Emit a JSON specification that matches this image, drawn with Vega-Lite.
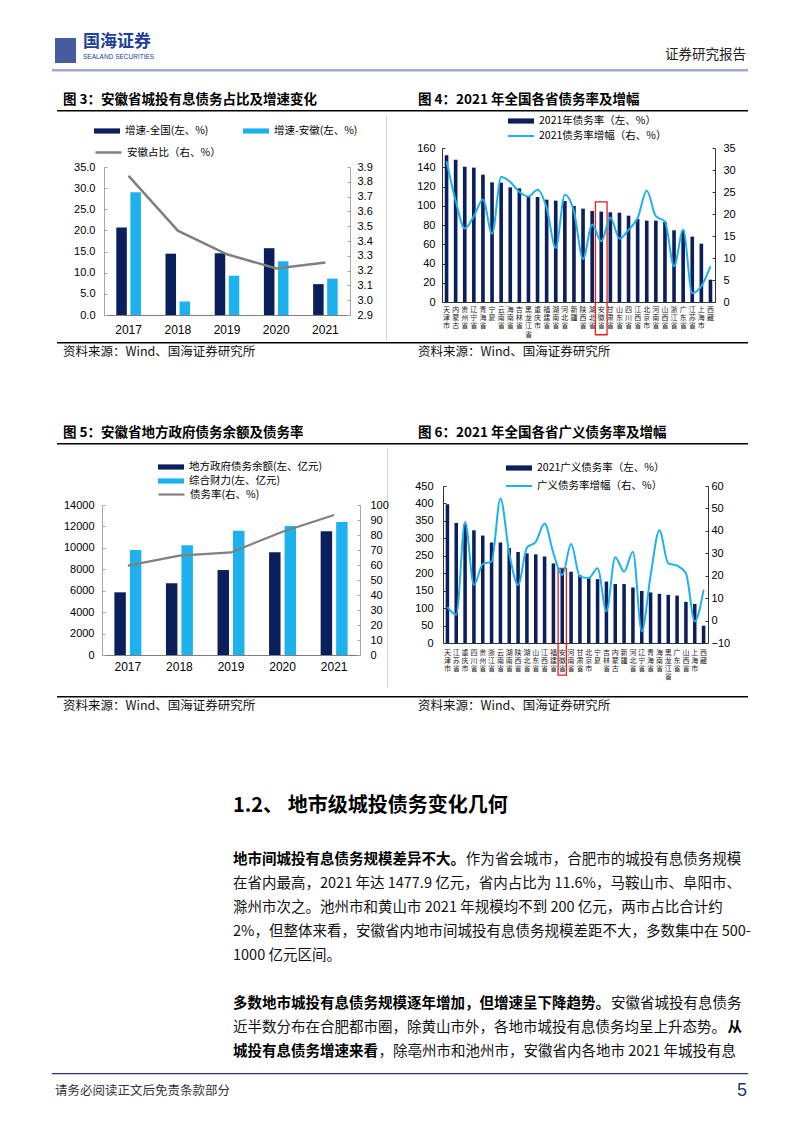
{
"$schema": "https://vega.github.io/schema/vega-lite/v6.json",
"padding": 0,
"background": "#ffffff",
"bounds": "flush",
"spacing": 0,
"resolve": {"scale": {"x": "independent", "y": "independent", "color": "independent", "stroke": "independent", "xOffset": "independent"}, "legend": {"color": "independent", "stroke": "independent"}},
"config": {
 "view": {"stroke": null},
 "font": "Noto Sans CJK SC",
 "axis": {"labelFont": "Liberation Sans", "labelFontSize": 11, "labelColor": "#000000", "domainColor": "#8c8c8c", "tickColor": "#8c8c8c", "grid": false, "labelOverlap": false},
 "legend": {"labelFont": "Noto Sans CJK SC", "labelFontSize": 10.5, "labelColor": "#000000", "padding": 0, "labelOffset": 10.5, "labelLimit": 400, "rowPadding": 1, "symbolSize": 169},
 "title": {"font": "Noto Sans CJK SC", "color": "#000000"}
},
"datasets": {
 "c3bars": [
  {"year": "2017", "series": "增速-全国(左、%)", "value": 20.7},
  {"year": "2017", "series": "增速-安徽(左、%)", "value": 29.0},
  {"year": "2018", "series": "增速-全国(左、%)", "value": 14.5},
  {"year": "2018", "series": "增速-安徽(左、%)", "value": 3.2},
  {"year": "2019", "series": "增速-全国(左、%)", "value": 14.6},
  {"year": "2019", "series": "增速-安徽(左、%)", "value": 9.3},
  {"year": "2020", "series": "增速-全国(左、%)", "value": 15.8},
  {"year": "2020", "series": "增速-安徽(左、%)", "value": 12.7},
  {"year": "2021", "series": "增速-全国(左、%)", "value": 7.3},
  {"year": "2021", "series": "增速-安徽(左、%)", "value": 8.6}
 ],
 "c3line": [
  {"year": "2017", "share": 3.84},
  {"year": "2018", "share": 3.47},
  {"year": "2019", "share": 3.31},
  {"year": "2020", "share": 3.215},
  {"year": "2021", "share": 3.255}
 ],
 "c5bars": [
  {"year": "2017", "series": "地方政府债务余额(左、亿元)", "value": 5850},
  {"year": "2017", "series": "综合财力(左、亿元)", "value": 9800},
  {"year": "2018", "series": "地方政府债务余额(左、亿元)", "value": 6690},
  {"year": "2018", "series": "综合财力(左、亿元)", "value": 10240},
  {"year": "2019", "series": "地方政府债务余额(左、亿元)", "value": 7930},
  {"year": "2019", "series": "综合财力(左、亿元)", "value": 11600},
  {"year": "2020", "series": "地方政府债务余额(左、亿元)", "value": 9580},
  {"year": "2020", "series": "综合财力(左、亿元)", "value": 12040},
  {"year": "2021", "series": "地方政府债务余额(左、亿元)", "value": 11540},
  {"year": "2021", "series": "综合财力(左、亿元)", "value": 12420}
 ],
 "c5line": [
  {"year": "2017", "ratio": 59.6},
  {"year": "2018", "ratio": 66.2},
  {"year": "2019", "ratio": 68.4},
  {"year": "2020", "ratio": 82.2},
  {"year": "2021", "ratio": 93.3}
 ],
 "c4": [
  {"prov": "天津市", "rate": 152.4, "growth": 32.0},
  {"prov": "内蒙古", "rate": 147.9, "growth": 23.0},
  {"prov": "贵州省", "rate": 140.6, "growth": 16.7},
  {"prov": "辽宁省", "rate": 139.6, "growth": 19.5},
  {"prov": "青海省", "rate": 132.3, "growth": 23.3},
  {"prov": "宁夏", "rate": 124.3, "growth": 15.5},
  {"prov": "云南省", "rate": 124.0, "growth": 28.4},
  {"prov": "海南省", "rate": 119.1, "growth": 27.3},
  {"prov": "吉林省", "rate": 118.1, "growth": 25.0},
  {"prov": "黑龙江省", "rate": 109.8, "growth": 24.0},
  {"prov": "重庆市", "rate": 109.1, "growth": 25.5},
  {"prov": "福建省", "rate": 106.3, "growth": 21.4},
  {"prov": "湖南省", "rate": 105.3, "growth": 12.3},
  {"prov": "河北省", "rate": 104.9, "growth": 24.4},
  {"prov": "新疆", "rate": 99.7, "growth": 20.6},
  {"prov": "陕西省", "rate": 97.0, "growth": 9.8},
  {"prov": "湖北省", "rate": 94.5, "growth": 17.6},
  {"prov": "安徽省", "rate": 93.9, "growth": 13.8},
  {"prov": "甘肃省", "rate": 93.2, "growth": 19.2},
  {"prov": "山东省", "rate": 92.8, "growth": 14.4},
  {"prov": "四川省", "rate": 89.7, "growth": 16.4},
  {"prov": "江西省", "rate": 86.2, "growth": 19.1},
  {"prov": "北京市", "rate": 84.5, "growth": 25.3},
  {"prov": "河南省", "rate": 84.5, "growth": 19.5},
  {"prov": "山西省", "rate": 83.1, "growth": 18.3},
  {"prov": "浙江省", "rate": 74.5, "growth": 8.1},
  {"prov": "广东省", "rate": 74.1, "growth": 16.4},
  {"prov": "江苏省", "rate": 67.9, "growth": 2.0},
  {"prov": "上海市", "rate": 60.6, "growth": 3.6},
  {"prov": "西藏", "rate": 23.2, "growth": 8.1}
 ],
 "c6": [
  {"prov": "天津市", "rate": 398, "growth": 6.0},
  {"prov": "江苏省", "rate": 344, "growth": 2.6},
  {"prov": "重庆市", "rate": 340, "growth": 44.0},
  {"prov": "四川省", "rate": 323, "growth": 15.9},
  {"prov": "贵州省", "rate": 308, "growth": 25.2},
  {"prov": "浙江省", "rate": 288, "growth": 26.3},
  {"prov": "云南省", "rate": 288, "growth": 54.4},
  {"prov": "湖南省", "rate": 272, "growth": 30.0},
  {"prov": "陕西省", "rate": 261, "growth": 15.9},
  {"prov": "湖北省", "rate": 257, "growth": 32.5},
  {"prov": "山东省", "rate": 254, "growth": 35.1},
  {"prov": "江西省", "rate": 248, "growth": 43.3},
  {"prov": "福建省", "rate": 228, "growth": 30.0},
  {"prov": "安徽省", "rate": 214, "growth": 20.3},
  {"prov": "河南省", "rate": 204, "growth": 34.1},
  {"prov": "甘肃省", "rate": 194, "growth": 19.6},
  {"prov": "北京市", "rate": 187, "growth": 19.0},
  {"prov": "宁夏", "rate": 183, "growth": 23.3},
  {"prov": "吉林省", "rate": 176, "growth": 4.1},
  {"prov": "内蒙古", "rate": 169, "growth": 28.2},
  {"prov": "新疆", "rate": 169, "growth": 21.8},
  {"prov": "河北省", "rate": 159, "growth": 30.7},
  {"prov": "辽宁省", "rate": 149, "growth": -4.8},
  {"prov": "青海省", "rate": 145, "growth": 20.0},
  {"prov": "海南省", "rate": 141, "growth": 40.3},
  {"prov": "黑龙江省", "rate": 138, "growth": 25.5},
  {"prov": "广东省", "rate": 136, "growth": 24.5},
  {"prov": "山西省", "rate": 118, "growth": 21.1},
  {"prov": "上海市", "rate": 112, "growth": -0.4},
  {"prov": "西藏", "rate": 49.5, "growth": 13.7}
 ],
 "body": [
  {"line": 0, "col": 0, "seg": "地市间城投有息债务规模差异不大。", "emph": true},
  {"line": 0, "col": 16, "seg": "作为省会城市，合肥市的城投有息债务规模", "emph": false},
  {"line": 1, "col": 0, "seg": "在省内最高，2021 年达 1477.9 亿元，省内占比为 11.6%，马鞍山市、阜阳市、", "emph": false},
  {"line": 2, "col": 0, "seg": "滁州市次之。池州市和黄山市 2021 年规模均不到 200 亿元，两市占比合计约", "emph": false},
  {"line": 3, "col": 0, "seg": "2%，但整体来看，安徽省内地市间城投有息债务规模差距不大，多数集中在 500-", "emph": false},
  {"line": 4, "col": 0, "seg": "1000 亿元区间。", "emph": false},
  {"line": 6, "col": 0, "seg": "多数地市城投有息债务规模逐年增加，但增速呈下降趋势。", "emph": true},
  {"line": 6, "col": 26, "seg": "安徽省城投有息债务", "emph": false},
  {"line": 7, "col": 0, "seg": "近半数分布在合肥都市圈，除黄山市外，各地市城投有息债务均呈上升态势。", "emph": false},
  {"line": 7, "col": 34, "seg": "从", "emph": true},
  {"line": 8, "col": 0, "seg": "城投有息债务增速来看", "emph": true},
  {"line": 8, "col": 10, "seg": "，除亳州市和池州市，安徽省内各地市 2021 年城投有息", "emph": false}
 ]
},
"vconcat": [
 {"width": 1, "height": 38, "data": {"values": []}, "mark": {"type": "point", "opacity": 0}},
 {"bounds": "flush", "spacing": 0, "hconcat": [
   {"width": 55, "height": 1, "data": {"values": []}, "mark": {"type": "point", "opacity": 0}},
   {"width": 21, "height": 25, "view": {"fill": "#243f8e", "fillOpacity": 0.85}, "data": {"values": []}, "mark": {"type": "point", "opacity": 0}}
 ]},
 {"width": 1, "height": 31, "data": {"values": []}, "mark": {"type": "point", "opacity": 0}},
 {"bounds": "flush", "spacing": 0, "hconcat": [
   {"width": 52, "height": 1, "data": {"values": []}, "mark": {"type": "point", "opacity": 0}},
   {"width": 696, "height": 2.5, "view": {"fill": "#a4a8d8"}, "data": {"values": []}, "mark": {"type": "point", "opacity": 0},
    "title": {"text": "国海证券", "subtitle": "SEALAND SECURITIES", "anchor": "start", "dx": 31, "offset": 8, "fontSize": 17, "fontWeight": "bold", "color": "#20409a", "subtitleFontSize": 6.5, "subtitleColor": "#20409a", "subtitleFont": "Liberation Sans", "subtitlePadding": 3}},
   {"width": 1, "height": 2.5, "data": {"values": []}, "mark": {"type": "point", "opacity": 0},
    "title": {"text": "证券研究报告", "anchor": "end", "dx": -3, "offset": 8, "fontSize": 13.5, "fontWeight": "normal", "color": "#222222"}}
 ]},
 {"width": 1, "height": 41, "data": {"values": []}, "mark": {"type": "point", "opacity": 0}},
 {"bounds": "flush", "spacing": 0, "hconcat": [
   {"width": 57, "height": 1, "data": {"values": []}, "mark": {"type": "point", "opacity": 0}},
   {"width": 355, "height": 1.5, "view": {"fill": "#000000"}, "data": {"values": []}, "mark": {"type": "point", "opacity": 0},
    "title": {"text": "图 3：安徽省城投有息债务占比及增速变化", "anchor": "start", "dx": 6, "offset": 4, "fontSize": 13.5, "fontWeight": "bold"}},
   {"width": 336, "height": 1.5, "view": {"fill": "#000000"}, "data": {"values": []}, "mark": {"type": "point", "opacity": 0},
    "title": {"text": "图 4：2021 年全国各省债务率及增幅", "anchor": "start", "dx": 6, "offset": 4, "fontSize": 13.5, "fontWeight": "bold"}}
 ]},
 {"width": 1, "height": 5, "data": {"values": []}, "mark": {"type": "point", "opacity": 0}},
 {"bounds": "flush", "spacing": 0, "hconcat": [
   {"width": 386, "height": 1, "data": {"values": []}, "mark": {"type": "point", "opacity": 0}},
   {"width": 1, "height": 226, "view": {"fill": "#d4d4d4"}, "data": {"values": []}, "mark": {"type": "point", "opacity": 0}}
 ]},
 {"width": 1, "height": 33, "data": {"values": []}, "mark": {"type": "point", "opacity": 0}},
 {"bounds": "flush", "spacing": 0,
  "resolve": {"scale": {"color": "independent", "stroke": "independent"}, "legend": {"color": "independent", "stroke": "independent"}},
  "hconcat": [
   {"width": 442, "height": 1, "data": {"values": []}, "mark": {"type": "point", "opacity": 0}},
   {
    "width": 273, "height": 154,
    "resolve": {"scale": {"y": "independent"}},
    "layer": [
     {
      "data": {"name": "c4"},
      "mark": {"type": "bar"},
      "encoding": {
       "x": {"field": "prov", "type": "nominal", "sort": null, "scale": {"type": "band", "paddingInner": 0.6, "paddingOuter": 0.3},
             "axis": {"title": null, "labelAngle": 0, "labelExpr": "split(datum.label, '')", "labelFont": "Noto Sans CJK SC", "labelFontSize": 7, "labelLineHeight": 8.4, "labelBaseline": "top", "labelPadding": 3, "ticks": false, "domainColor": "#333333", "labelColor": "#222222", "labelOverlap": false}},
       "y": {"field": "rate", "type": "quantitative", "scale": {"domain": [0, 160], "nice": false},
             "axis": {"title": null, "values": [0, 20, 40, 60, 80, 100, 120, 140, 160], "tickSize": -3, "labelPadding": 10, "domainColor": "#333333", "tickColor": "#333333", "labelOverlap": false}},
       "color": {"datum": "2021年债务率（左、%）", "type": "nominal", "scale": {"range": ["#0b1f5c"]},
                 "legend": {"title": null, "orient": "none", "legendX": 71.5, "legendY": -34.5, "symbolType": "M-2,-0.4H2V0.4H-2Z"}}
      }
     },
     {
      "data": {"name": "c4"},
      "transform": [{"filter": "datum.prov === '安徽省'"}],
      "mark": {"type": "bar", "filled": false, "color": "#e0211d", "strokeWidth": 1.3, "width": {"band": 3.2}, "clip": false},
      "encoding": {
       "x": {"field": "prov", "type": "nominal", "sort": null},
       "y": {"datum": 104, "type": "quantitative", "scale": {"domain": [0, 160], "nice": false}, "axis": null},
       "y2": {"datum": -34}
      }
     },
     {
      "data": {"name": "c4"},
      "mark": {"type": "line", "strokeWidth": 2, "interpolate": "monotone"},
      "encoding": {
       "x": {"field": "prov", "type": "nominal", "sort": null},
       "y": {"field": "growth", "type": "quantitative", "scale": {"domain": [0, 35], "nice": false},
             "axis": {"orient": "right", "title": null, "values": [0, 5, 10, 15, 20, 25, 30, 35], "tickSize": -3, "labelPadding": 11, "domainColor": "#333333", "tickColor": "#333333", "labelOverlap": false}},
       "stroke": {"datum": "2021债务率增幅（右、%）", "type": "nominal", "scale": {"range": ["#1db1ee"]},
                  "legend": {"title": null, "orient": "none", "legendX": 71.5, "legendY": -19.5, "symbolType": "M-2,0H2", "symbolStrokeWidth": 2}}
      }
     }
    ]
   }
 ]},
 {"width": 1, "height": 19, "data": {"values": []}, "mark": {"type": "point", "opacity": 0}},
 {"bounds": "flush", "spacing": 0,
  "resolve": {"scale": {"color": "independent", "stroke": "independent", "xOffset": "independent"}, "legend": {"color": "independent", "stroke": "independent"}},
  "hconcat": [
   {"width": 104, "height": 1, "data": {"values": []}, "mark": {"type": "point", "opacity": 0}},
   {
    "width": 246, "height": 148,
    "resolve": {"scale": {"y": "independent"}},
    "layer": [
     {
      "data": {"name": "c3bars"},
      "mark": {"type": "bar"},
      "encoding": {
       "x": {"field": "year", "type": "nominal", "sort": null, "scale": {"type": "band", "paddingInner": 0.5, "paddingOuter": 0.25},
             "axis": {"title": null, "labelAngle": 0, "ticks": false, "labelPadding": 9, "labelFontSize": 12, "domainColor": "#7f7f7f"}},
       "xOffset": {"field": "series", "type": "nominal", "sort": ["增速-全国(左、%)", "增速-安徽(左、%)"], "scale": {"paddingInner": 0.25, "paddingOuter": 0}},
       "y": {"field": "value", "type": "quantitative", "scale": {"domain": [0, 35], "nice": false},
             "axis": {"title": null, "values": [0, 5, 10, 15, 20, 25, 30, 35], "format": ".1f", "tickSize": -3, "labelPadding": 12, "domainColor": "#a6a6a6", "tickColor": "#a6a6a6", "labelOverlap": false}},
       "color": {"field": "series", "type": "nominal", "sort": ["增速-全国(左、%)", "增速-安徽(左、%)"],
                 "scale": {"domain": ["增速-全国(左、%)", "增速-安徽(左、%)"], "range": ["#0b1f5c", "#1db2ee"]},
                 "legend": {"title": null, "orient": "none", "legendX": -4.5, "legendY": -43.5, "direction": "horizontal", "columns": 2, "columnPadding": 34, "symbolType": "M-2,-0.4H2V0.4H-2Z"}}
      }
     },
     {
      "data": {"name": "c3line"},
      "mark": {"type": "line", "strokeWidth": 2.5},
      "encoding": {
       "x": {"field": "year", "type": "nominal", "sort": null},
       "y": {"field": "share", "type": "quantitative", "scale": {"domain": [2.9, 3.9], "nice": false, "zero": false},
             "axis": {"orient": "right", "title": null, "values": [2.9, 3.0, 3.1, 3.2, 3.3, 3.4, 3.5, 3.6, 3.7, 3.8, 3.9], "format": ".1f", "tickSize": -3, "labelPadding": 10, "domainColor": "#a6a6a6", "tickColor": "#a6a6a6", "labelOverlap": false}},
       "stroke": {"datum": "安徽占比（右、%）", "type": "nominal", "scale": {"range": ["#808080"]},
                  "legend": {"title": null, "orient": "none", "legendX": -3.5, "legendY": -22.5, "symbolType": "M-2,0H2", "symbolStrokeWidth": 2.5}}
      }
     }
    ]
   }
 ]},
 {"width": 1, "height": 175, "data": {"values": []}, "mark": {"type": "point", "opacity": 0}},
 {"bounds": "flush", "spacing": 0, "hconcat": [
   {"width": 57, "height": 1, "data": {"values": []}, "mark": {"type": "point", "opacity": 0}},
   {"width": 355, "height": 1.5, "view": {"fill": "#000000"}, "data": {"values": []}, "mark": {"type": "point", "opacity": 0},
    "title": {"text": "资料来源：Wind、国海证券研究所", "orient": "bottom", "anchor": "start", "dx": 6, "offset": 2, "fontSize": 12.5, "fontWeight": "normal", "color": "#111111"}},
   {"width": 336, "height": 1.5, "view": {"fill": "#000000"}, "data": {"values": []}, "mark": {"type": "point", "opacity": 0},
    "title": {"text": "资料来源：Wind、国海证券研究所", "orient": "bottom", "anchor": "start", "dx": 6, "offset": 2, "fontSize": 12.5, "fontWeight": "normal", "color": "#111111"}}
 ]},
 {"width": 1, "height": 101, "data": {"values": []}, "mark": {"type": "point", "opacity": 0}},
 {"bounds": "flush", "spacing": 0, "hconcat": [
   {"width": 57, "height": 1, "data": {"values": []}, "mark": {"type": "point", "opacity": 0}},
   {"width": 355, "height": 1.5, "view": {"fill": "#000000"}, "data": {"values": []}, "mark": {"type": "point", "opacity": 0},
    "title": {"text": "图 5：安徽省地方政府债务余额及债务率", "anchor": "start", "dx": 6, "offset": 4, "fontSize": 13.5, "fontWeight": "bold"}},
   {"width": 336, "height": 1.5, "view": {"fill": "#000000"}, "data": {"values": []}, "mark": {"type": "point", "opacity": 0},
    "title": {"text": "图 6：2021 年全国各省广义债务率及增幅", "anchor": "start", "dx": 6, "offset": 4, "fontSize": 13.5, "fontWeight": "bold"}}
 ]},
 {"width": 1, "height": 5, "data": {"values": []}, "mark": {"type": "point", "opacity": 0}},
 {"bounds": "flush", "spacing": 0, "hconcat": [
   {"width": 387, "height": 1, "data": {"values": []}, "mark": {"type": "point", "opacity": 0}},
   {"width": 1, "height": 240, "view": {"fill": "#d4d4d4"}, "data": {"values": []}, "mark": {"type": "point", "opacity": 0}}
 ]},
 {"width": 1, "height": 38, "data": {"values": []}, "mark": {"type": "point", "opacity": 0}},
 {"bounds": "flush", "spacing": 0,
  "resolve": {"scale": {"color": "independent", "stroke": "independent"}, "legend": {"color": "independent", "stroke": "independent"}},
  "hconcat": [
   {"width": 443, "height": 1, "data": {"values": []}, "mark": {"type": "point", "opacity": 0}},
   {
    "width": 265, "height": 157,
    "resolve": {"scale": {"y": "independent"}},
    "layer": [
     {
      "data": {"name": "c6"},
      "mark": {"type": "bar"},
      "encoding": {
       "x": {"field": "prov", "type": "nominal", "sort": null, "scale": {"type": "band", "paddingInner": 0.6, "paddingOuter": 0.3},
             "axis": {"title": null, "labelAngle": 0, "labelExpr": "split(datum.label, '')", "labelFont": "Noto Sans CJK SC", "labelFontSize": 7, "labelLineHeight": 8.2, "labelBaseline": "top", "labelPadding": 5, "ticks": false, "domainColor": "#333333", "labelColor": "#222222", "labelOverlap": false}},
       "y": {"field": "rate", "type": "quantitative", "scale": {"domain": [0, 450], "nice": false},
             "axis": {"title": null, "values": [0, 50, 100, 150, 200, 250, 300, 350, 400, 450], "tickSize": -3, "labelPadding": 13, "domainColor": "#333333", "tickColor": "#333333", "labelOverlap": false}},
       "color": {"datum": "2021广义债务率（左、%）", "type": "nominal", "scale": {"range": ["#0b1f5c"]},
                 "legend": {"title": null, "orient": "none", "legendX": 68.5, "legendY": -25.5, "symbolType": "M-2,-0.4H2V0.4H-2Z"}}
      }
     },
     {
      "data": {"name": "c6"},
      "transform": [{"filter": "datum.prov === '安徽省'"}],
      "mark": {"type": "bar", "filled": false, "color": "#e0211d", "strokeWidth": 1.3, "width": {"band": 2.35}, "clip": false},
      "encoding": {
       "x": {"field": "prov", "type": "nominal", "sort": null},
       "y": {"datum": 214, "type": "quantitative", "scale": {"domain": [0, 450], "nice": false}, "axis": null},
       "y2": {"datum": -92}
      }
     },
     {
      "data": {"name": "c6"},
      "mark": {"type": "line", "strokeWidth": 2, "interpolate": "monotone"},
      "encoding": {
       "x": {"field": "prov", "type": "nominal", "sort": null},
       "y": {"field": "growth", "type": "quantitative", "scale": {"domain": [-10, 60], "nice": false, "zero": false},
             "axis": {"orient": "right", "title": null, "values": [-10, 0, 10, 20, 30, 40, 50, 60], "tickSize": -3, "labelPadding": 6, "domainColor": "#333333", "tickColor": "#333333", "labelOverlap": false}},
       "stroke": {"datum": "广义债务率增幅（右、%）", "type": "nominal", "scale": {"range": ["#1db1ee"]},
                  "legend": {"title": null, "orient": "none", "legendX": 68.5, "legendY": -7.5, "symbolType": "M-2,0H2", "symbolStrokeWidth": 2}}
      }
     }
    ]
   }
 ]},
 {"width": 1, "height": 19, "data": {"values": []}, "mark": {"type": "point", "opacity": 0}},
 {"bounds": "flush", "spacing": 0,
  "resolve": {"scale": {"color": "independent", "stroke": "independent", "xOffset": "independent"}, "legend": {"color": "independent", "stroke": "independent"}},
  "hconcat": [
   {"width": 102, "height": 1, "data": {"values": []}, "mark": {"type": "point", "opacity": 0}},
   {
    "width": 258, "height": 150,
    "resolve": {"scale": {"y": "independent"}},
    "layer": [
     {
      "data": {"name": "c5bars"},
      "mark": {"type": "bar"},
      "encoding": {
       "x": {"field": "year", "type": "nominal", "sort": null, "scale": {"type": "band", "paddingInner": 0.477, "paddingOuter": 0.24},
             "axis": {"title": null, "labelAngle": 0, "ticks": false, "labelPadding": 6, "labelFontSize": 12, "domainColor": "#7f7f7f"}},
       "xOffset": {"field": "series", "type": "nominal", "sort": ["地方政府债务余额(左、亿元)", "综合财力(左、亿元)"], "scale": {"paddingInner": 0.26, "paddingOuter": 0}},
       "y": {"field": "value", "type": "quantitative", "scale": {"domain": [0, 14000], "nice": false},
             "axis": {"title": null, "values": [0, 2000, 4000, 6000, 8000, 10000, 12000, 14000], "format": "d", "tickSize": -3, "labelPadding": 11, "domainColor": "#a6a6a6", "tickColor": "#a6a6a6", "labelOverlap": false}},
       "color": {"field": "series", "type": "nominal", "sort": ["地方政府债务余额(左、亿元)", "综合财力(左、亿元)"],
                 "scale": {"domain": ["地方政府债务余额(左、亿元)", "综合财力(左、亿元)"], "range": ["#0b1f5c", "#1db2ee"]},
                 "legend": {"title": null, "orient": "none", "legendX": 61.5, "legendY": -45.5, "direction": "vertical", "rowPadding": 1, "symbolType": "M-2,-0.4H2V0.4H-2Z"}}
      }
     },
     {
      "data": {"name": "c5line"},
      "mark": {"type": "line", "strokeWidth": 2.2},
      "encoding": {
       "x": {"field": "year", "type": "nominal", "sort": null},
       "y": {"field": "ratio", "type": "quantitative", "scale": {"domain": [0, 100], "nice": false},
             "axis": {"orient": "right", "title": null, "values": [0, 10, 20, 30, 40, 50, 60, 70, 80, 90, 100], "tickSize": -3, "labelPadding": 13, "domainColor": "#a6a6a6", "tickColor": "#a6a6a6", "labelOverlap": false}},
       "stroke": {"datum": "债务率(右、%)", "type": "nominal", "scale": {"range": ["#808080"]},
                  "legend": {"title": null, "orient": "none", "legendX": 61.5, "legendY": -18.5, "symbolType": "M-2,0H2", "symbolStrokeWidth": 2.2}}
      }
     }
    ]
   }
 ]},
 {"width": 1, "height": 191, "data": {"values": []}, "mark": {"type": "point", "opacity": 0}},
 {"bounds": "flush", "spacing": 0, "hconcat": [
   {"width": 57, "height": 1, "data": {"values": []}, "mark": {"type": "point", "opacity": 0}},
   {"width": 355, "height": 1.5, "view": {"fill": "#000000"}, "data": {"values": []}, "mark": {"type": "point", "opacity": 0},
    "title": {"text": "资料来源：Wind、国海证券研究所", "orient": "bottom", "anchor": "start", "dx": 6, "offset": 2, "fontSize": 12.5, "fontWeight": "normal", "color": "#111111"}},
   {"width": 336, "height": 1.5, "view": {"fill": "#000000"}, "data": {"values": []}, "mark": {"type": "point", "opacity": 0},
    "title": {"text": "资料来源：Wind、国海证券研究所", "orient": "bottom", "anchor": "start", "dx": 6, "offset": 2, "fontSize": 12.5, "fontWeight": "normal", "color": "#111111"}}
 ]},
 {"width": 1, "height": 164, "data": {"values": []}, "mark": {"type": "point", "opacity": 0}},
 {"bounds": "flush", "spacing": 0, "hconcat": [
   {"width": 233, "height": 1, "data": {"values": []}, "mark": {"type": "point", "opacity": 0}},
   {
    "width": 509, "height": 192,
    "title": {"text": "1.2、 地市级城投债务变化几何", "anchor": "start", "offset": 36, "fontSize": 20, "fontWeight": "bold", "color": "#000000"},
    "data": {"name": "body"},
    "encoding": {
     "x": {"field": "col", "type": "quantitative", "scale": {"domain": [0, 35], "nice": false, "zero": false}, "axis": null},
     "y": {"field": "line", "type": "quantitative", "scale": {"domain": [0, 8], "nice": false, "reverse": true}, "axis": null},
     "text": {"field": "seg", "type": "nominal"}
    },
    "layer": [
     {"transform": [{"filter": "!datum.emph"}], "mark": {"type": "text", "align": "left", "baseline": "middle", "fontSize": 14.5, "font": "Noto Sans CJK SC", "color": "#111111"}},
     {"transform": [{"filter": "datum.emph"}], "mark": {"type": "text", "align": "left", "baseline": "middle", "fontSize": 14.5, "font": "Noto Sans CJK SC", "fontWeight": "bold", "color": "#000000"}}
    ]
   }
 ]},
 {"width": 1, "height": 213, "data": {"values": []}, "mark": {"type": "point", "opacity": 0}},
 {"bounds": "flush", "spacing": 0, "hconcat": [
   {"width": 52, "height": 1, "data": {"values": []}, "mark": {"type": "point", "opacity": 0}},
   {"width": 696, "height": 1.2, "view": {"fill": "#27306b"}, "data": {"values": []}, "mark": {"type": "point", "opacity": 0},
    "title": {"text": "请务必阅读正文后免责条款部分", "orient": "bottom", "anchor": "start", "dx": 3, "offset": 11, "fontSize": 12.5, "fontWeight": "normal", "color": "#333333"}},
   {"width": 1, "height": 1.2, "data": {"values": []}, "mark": {"type": "point", "opacity": 0},
    "title": {"text": "5", "orient": "bottom", "anchor": "end", "dx": -2, "offset": 8, "fontSize": 18, "fontWeight": "normal", "font": "Liberation Sans", "color": "#1f3a7a"}}
 ]}
]
}
